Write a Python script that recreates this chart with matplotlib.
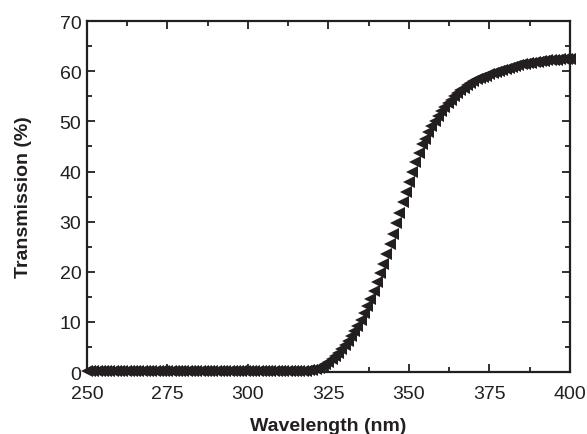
import numpy as np
import matplotlib
matplotlib.use('Agg')
import matplotlib.pyplot as plt
from matplotlib.ticker import MultipleLocator

plt.rcParams['font.family'] = ['Liberation Sans', 'DejaVu Sans']

# Transmission spectrum (1 nm steps)
wavelength = np.arange(250, 401)
transmission = np.array([
    # 250 - 317: flat near zero
    0.3, 0.3, 0.3, 0.3, 0.3, 0.3, 0.3, 0.3, 0.3, 0.3,
    0.3, 0.3, 0.3, 0.3, 0.3, 0.3, 0.3, 0.3, 0.3, 0.3,
    0.3, 0.3, 0.3, 0.3, 0.3, 0.3, 0.3, 0.3, 0.3, 0.3,
    0.3, 0.3, 0.3, 0.3, 0.3, 0.3, 0.3, 0.3, 0.3, 0.3,
    0.3, 0.3, 0.3, 0.3, 0.3, 0.3, 0.3, 0.3, 0.3, 0.3,
    0.3, 0.3, 0.3, 0.3, 0.3, 0.3, 0.3, 0.3, 0.3, 0.3,
    0.3, 0.3, 0.3, 0.3, 0.3, 0.3, 0.3, 0.3,
    # 318 - 330
    0.3, 0.4, 0.5, 0.6, 0.8, 1.1, 1.5, 2.0, 2.5, 3.1, 3.8, 4.5, 5.3,
    # 331 - 345
    6.2, 7.1, 8.1, 9.2, 10.4, 11.7, 13.1, 14.6, 16.2, 17.9, 19.7, 21.6, 23.5, 25.5, 27.6,
    # 346 - 360
    29.7, 31.8, 33.9, 36.0, 38.0, 40.0, 41.9, 43.7, 45.4, 46.5, 47.8, 49.0, 50.1, 51.1, 52.0,
    # 361 - 375
    52.9, 53.6, 54.3, 55.0, 55.6, 56.2, 56.7, 57.2, 57.7, 58.1, 58.5, 58.6, 58.9, 59.1, 59.4,
    # 376 - 390
    59.7, 59.9, 60.1, 60.3, 60.5, 60.7, 60.9, 61.1, 61.3, 61.4, 61.5, 61.6, 61.7, 61.8, 61.9,
    # 391 - 400
    62.0, 62.1, 62.2, 62.2, 62.3, 62.3, 62.4, 62.4, 62.4, 62.5,
])

fig = plt.figure(figsize=(5.87, 4.35), dpi=100)
ax = fig.add_axes([0.148, 0.1425, 0.823, 0.8065])

ax.plot(wavelength, transmission, linestyle='none', marker='<',
        markersize=9, color='#231f20', markeredgewidth=0, clip_on=False)

ax.set_xlim(250, 400)
ax.set_ylim(0, 70)
ax.xaxis.set_major_locator(MultipleLocator(25))
ax.xaxis.set_minor_locator(MultipleLocator(12.5))
ax.yaxis.set_major_locator(MultipleLocator(10))
ax.yaxis.set_minor_locator(MultipleLocator(5))

ax.tick_params(which='both', direction='in', top=True, right=True,
               width=1.3, colors='#231f20', labelsize=14)
ax.tick_params(axis='x', pad=9)
ax.tick_params(axis='y', pad=4)
ax.tick_params(which='major', length=6)
ax.tick_params(which='minor', length=3.5)
for s in ax.spines.values():
    s.set_linewidth(1.6)
    s.set_color('#231f20')

ax.set_xlabel('Wavelength (nm)', fontsize=14, fontweight='bold', labelpad=11, color='#231f20')
ax.set_ylabel('Transmission (%)', fontsize=14, fontweight='bold', labelpad=20, color='#231f20')

fig.savefig('out.png', dpi=100)
